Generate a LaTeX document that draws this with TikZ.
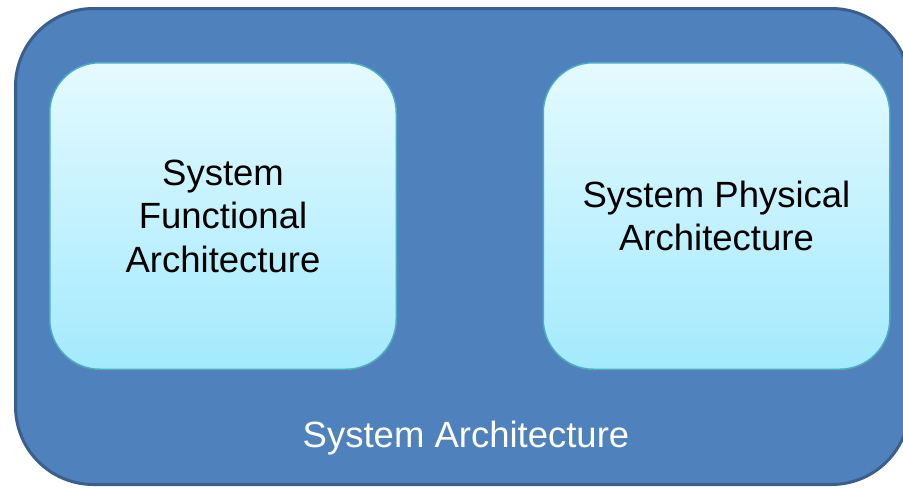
\documentclass[tikz,border=0pt]{standalone}
\usepackage{fontspec}
\setmainfont{Liberation Sans}
\usetikzlibrary{shadows}
\definecolor{outerfill}{HTML}{4F81BD}
\definecolor{outerline}{HTML}{3A5F8C}
\definecolor{innertop}{HTML}{E4FAFF}
\definecolor{innerbot}{HTML}{A3EAFD}
\definecolor{innerline}{HTML}{4BACC6}
\tikzset{
  outerbox/.style={draw=outerline, fill=outerfill, line width=3pt, rounded corners=78pt,
    minimum width=894pt, minimum height=476pt, inner sep=0pt},
  innerbox/.style={draw=innerline, line width=1.5pt, rounded corners=50pt,
    top color=innertop, bottom color=innerbot,
    minimum width=346.5pt, minimum height=306.5pt, inner sep=0pt, align=center,
    font=\fontsize{36.5}{43.5}\selectfont, text=black,
    drop shadow={opacity=0.25, shadow xshift=0pt, shadow yshift=-2.5pt}},
  outerlabel/.style={font=\fontsize{36.5}{43.5}\selectfont, text=white, inner sep=0pt}
}
\begin{document}
\begin{tikzpicture}
\useasboundingbox (0,0) rectangle (903pt,-488pt);
\begin{scope}
\clip (0,0) rectangle (903pt,-488pt);
\node[outerbox] (outer) at (462.5pt,-246.5pt) {};
\end{scope}
\node[innerbox] (func) at (223pt,-216pt) {System\\Functional\\Architecture};
\node[innerbox] (phys) at (716.5pt,-216pt) {System Physical\\Architecture};
\node[outerlabel, anchor=base] (lbl) at (466pt,-447pt) {System Architecture};
\end{tikzpicture}
\end{document}
